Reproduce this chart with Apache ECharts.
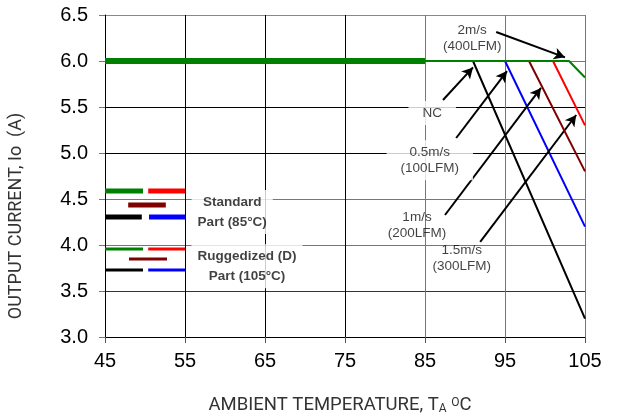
<!DOCTYPE html>
<html>
<head>
<meta charset="utf-8">
<script src="https://cdn.jsdelivr.net/npm/echarts@6/dist/echarts.min.js"></script>
<style>html,body{margin:0;padding:0;background:#fff}#c{width:618px;height:418px}</style>
</head>
<body>
<div id="c"></div>
<script>
// ---- data (ambient temperature °C, output current A) ----
const xTicks = [45, 55, 65, 75, 85, 95, 105];
const yTicks = [3.0, 3.5, 4.0, 4.5, 5.0, 5.5, 6.0, 6.5];
const ncTemp   = [45, 91, 105];   const ncCurr   = [6.0, 6.0, 3.2];   // natural convection
const v05Temp  = [45, 95, 105];   const v05Curr  = [6.0, 6.0, 4.2];   // 0.5 m/s
const v1Temp   = [45, 98, 105];   const v1Curr   = [6.0, 6.0, 4.8];   // 1 m/s
const v15Temp  = [45, 101, 105];  const v15Curr  = [6.0, 6.0, 5.3];   // 1.5 m/s
const v2Temp   = [45, 103, 105];  const v2Curr   = [6.0, 6.0, 5.82];  // 2 m/s
const stdTemp  = [45, 85];        const stdCurr  = [6.0, 6.0];        // standard part flat region

// ---- layout (annotations placed in data units) ----
const annotations = [
  {text: '2m/s\n(400LFM)',  at: [90.9, 6.25], from: [93.9, 6.315], to: [102.5, 6.04], bg: false},
  {text: 'NC',              at: [85.9, 5.435], from: [87.25, 5.576], to: [91.0, 5.93], bg: true},
  {text: '0.5m/s\n(100LFM)',at: [85.6, 4.92], from: [88.9, 5.163], to: [95.25, 5.89], bg: true},
  {text: '1m/s\n(200LFM)',  at: [84.0, 4.215], from: [87.5, 4.326], to: [99.5, 5.707], bg: false},
  {text: '1.5m/s\n(300LFM)',at: [89.6, 3.86], from: [91.9, 4.033], to: [103.9, 5.413], bg: false}
];
const keyRows = [
  // [x1, x2, y, color, width]
  [45.0, 49.75, 4.587, '#008000', 5], [50.4, 55.0, 4.587, '#ff0000', 5],
  [47.9, 52.6, 4.435, '#800000', 5],
  [45.0, 49.6, 4.304, '#000000', 5], [50.5, 55.0, 4.304, '#0000ff', 5],
  [45.0, 49.75, 3.957, '#008000', 3], [50.4, 55.0, 3.957, '#ff0000', 3],
  [48.0, 52.75, 3.848, '#800000', 3],
  [45.0, 49.75, 3.728, '#000000', 3], [50.4, 55.0, 3.728, '#0000ff', 3]
];

const zip = (a, b) => a.map((v, i) => [v, b[i]]);
const chart = echarts.init(document.getElementById('c'), null, {renderer: 'canvas'});

function curve(name, xs, ys, color, width, z) {
  return {name, type: 'line', data: zip(xs, ys), showSymbol: false, symbol: 'none',
    lineStyle: {color, width}, z: z || 3, animation: false, silent: true};
}

const series = [
  curve('NC', ncTemp, ncCurr, '#000000', 2, 3),
  curve('0.5m/s', v05Temp, v05Curr, '#0000ff', 2, 4),
  curve('1m/s', v1Temp, v1Curr, '#800000', 2, 5),
  curve('1.5m/s', v15Temp, v15Curr, '#ff0000', 2, 6),
  curve('2m/s', v2Temp, v2Curr, '#008000', 2, 7),
  curve('Standard', stdTemp, stdCurr, '#008000', 6, 8)
];

keyRows.forEach((k, i) => {
  series.push({type: 'line', data: [[k[0], k[2]], [k[1], k[2]]], showSymbol: false, symbol: 'none',
    lineStyle: {color: k[3], width: k[4], cap: 'butt'}, z: 9, animation: false, silent: true});
});

// arrows
series.push({
  type: 'line', data: [], animation: false, silent: true,
  markLine: {
    silent: true, animation: false, symbol: ['none', 'arrow'], symbolSize: [9, 11],
    lineStyle: {color: '#000', width: 2, type: 'solid'}, label: {show: false},
    data: annotations.map(a => [{coord: a.from, symbol: 'none'}, {coord: a.to, symbol: 'arrow'}])
  }, z: 10
});

// annotation texts
series.push({
  type: 'scatter', symbolSize: 0, animation: false, silent: true, z: 11,
  data: annotations.map(a => ({
    value: a.at,
    label: {show: true, position: 'inside', formatter: a.text, color: '#111',
      fontFamily: 'Liberation Sans, Arial, sans-serif', fontSize: 13.5, lineHeight: 16, align: 'center',
      backgroundColor: a.bg ? '#fff' : 'transparent', padding: a.bg ? [4, 14] : 0}
  }))
});

// key texts
series.push({
  type: 'scatter', symbolSize: 0, animation: false, silent: true, z: 11,
  data: [
    {value: [60.9, 4.359], label: {formatter: 'Standard\nPart (85°C)'}},
    {value: [62.75, 3.77], label: {formatter: 'Ruggedized (D)\nPart (105°C)'}}
  ].map(d => ({value: d.value, label: Object.assign({show: true, position: 'inside', color: '#111',
      fontFamily: 'Liberation Sans, Arial, sans-serif', fontWeight: 'bold', fontSize: 13.5, lineHeight: 20,
      align: 'center', backgroundColor: '#fff', padding: [2, 6]}, d.label)}))
});

chart.setOption({
  animation: false,
  backgroundColor: '#fff',
  grid: {left: 105, right: 33, top: 15, bottom: 81, containLabel: false},
  xAxis: {
    type: 'value', min: xTicks[0], max: xTicks[xTicks.length - 1], interval: 10,
    axisLine: {show: true, onZero: false, lineStyle: {color: '#000', width: 1}},
    axisTick: {show: true, length: 6, lineStyle: {color: '#555'}},
    axisLabel: {color: '#000', fontSize: 20, fontFamily: 'Liberation Sans, Arial, sans-serif', margin: 14},
    splitLine: {show: true, lineStyle: {color: ['#000', '#000', '#000', '#000', '#777', '#777', '#777'], width: 1}}
  },
  yAxis: {
    type: 'value', min: yTicks[0], max: yTicks[yTicks.length - 1], interval: 0.5,
    axisLine: {show: true, onZero: false, lineStyle: {color: '#000', width: 1}},
    axisTick: {show: true, length: 6, lineStyle: {color: '#777'}},
    axisLabel: {color: '#000', fontSize: 20, fontFamily: 'Liberation Sans, Arial, sans-serif', margin: 17,
      formatter: v => v.toFixed(1)},
    splitLine: {show: true, lineStyle: {color: ['#000', '#333', '#777', '#777', '#000', '#000', '#777', '#888'], width: 1}}
  },
  graphic: [
    {type: 'text', x: 340, y: 404, style: {
      text: '{a|AMBIENT TEMPERATURE, T}{s|A}{a| }{p|O}{a|C}',
      align: 'center', verticalAlign: 'middle',
      rich: {
        a: {fontFamily: 'Roboto, sans-serif', fontSize: 18.5, fill: '#333', verticalAlign: 'bottom', lineHeight: 22},
        s: {fontFamily: 'Roboto, sans-serif', fontSize: 12, fill: '#333', verticalAlign: 'bottom', lineHeight: 20},
        p: {fontFamily: 'Roboto, sans-serif', fontSize: 12, fill: '#333', verticalAlign: 'bottom', lineHeight: 14, padding: [0, 0, 6, 0]}
      }
    }},
    {type: 'text', x: 16, y: 216, rotation: Math.PI / 2, style: {
      text: 'OUTPUT CURRENT, Io  (A)', fontFamily: 'Roboto, sans-serif', fontSize: 18, fill: '#333',
      align: 'center', verticalAlign: 'middle'}}
  ],
  series
});
</script>
</body>
</html>
